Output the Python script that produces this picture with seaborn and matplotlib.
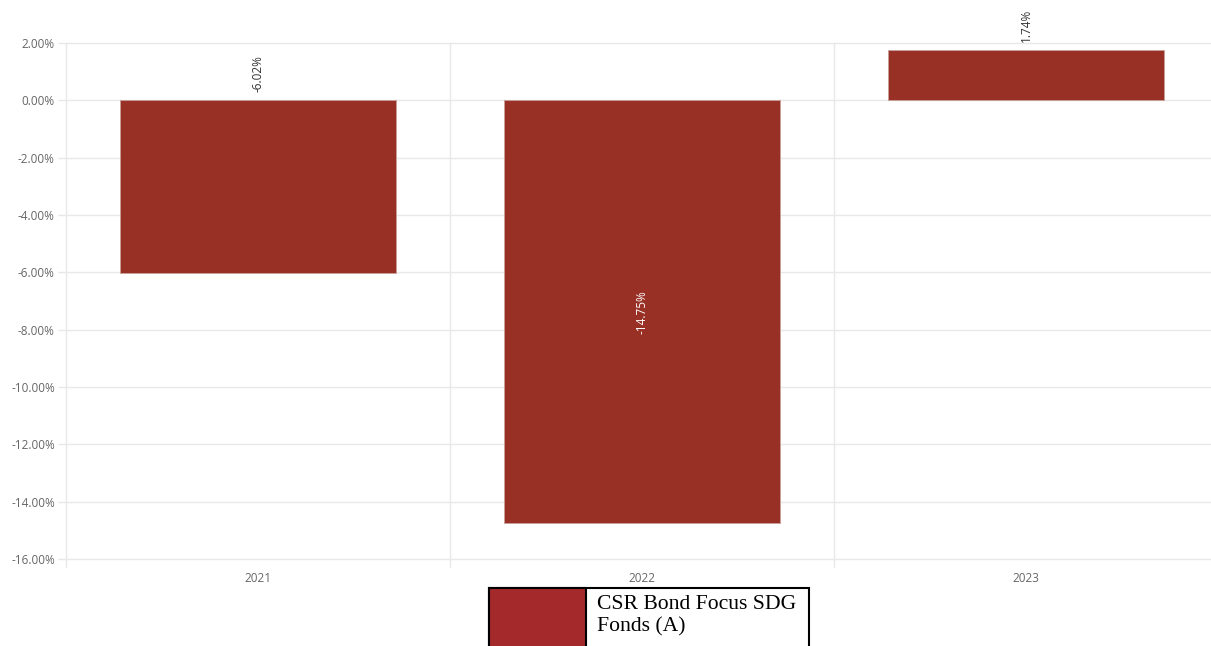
import matplotlib
matplotlib.use('Agg')
import matplotlib.pyplot as plt
import seaborn as sns
import pandas as pd
from matplotlib.patches import Rectangle
from matplotlib.ticker import FuncFormatter, MultipleLocator

# Data
years = ['2021', '2022', '2023']
returns = [-6.02, -14.75, 1.74]
series_name = 'CSR Bond Focus SDG\nFonds (A)'

bar_color = '#983026'
legend_color = '#a3292a'

df = pd.DataFrame({'Year': years, 'Return': returns})

sns.set_theme(style='white')
plt.rcParams['font.family'] = ['Open Sans', 'DejaVu Sans']

W, H = 1211, 646
fig = plt.figure(figsize=(W / 100, H / 100), dpi=100)
# axes in pixels: left 66, right 1211, top 43, bottom 559
ax = fig.add_axes([66 / W, 1 - 559 / H, (1211 - 66) / W, (559 - 43) / H])

sns.barplot(data=df, x='Year', y='Return', color=bar_color, width=0.72,
            saturation=1, ax=ax, edgecolor='#c8a09a', linewidth=0.6, zorder=3)

ax.set_ylim(-16, 2)
ax.set_xlim(-0.5, -0.5 + 1145 / 384)
ax.yaxis.set_major_locator(MultipleLocator(2))
ax.yaxis.set_major_formatter(FuncFormatter(lambda v, p: f'{v:.2f}%'))
ax.set_xlabel('')
ax.set_ylabel('')

# gridlines
for v in range(-16, 3, 2):
    ax.axhline(v, color='#e8e8e8', lw=1, zorder=1, clip_on=False)
for b in [-0.5, 0.5, 1.5]:
    ax.axvline(b, ymin=-8 / 516, ymax=1, color='#e8e8e8', lw=1, zorder=1, clip_on=False)

for s in ax.spines.values():
    s.set_visible(False)

ax.tick_params(axis='y', length=6, color='#e8e8e8', width=1, labelsize=8.5, labelcolor='#666666', pad=2, left=True)
ax.tick_params(axis='x', length=0, labelsize=8.5, labelcolor='#666666', pad=9)

# value labels
for i, v in enumerate(returns):
    if i == 1:
        ax.text(i, v / 2, f'{v:.2f}%', rotation=90, ha='center', va='center',
                fontsize=8.5, color='white', zorder=5)
    else:
        top = max(v, 0)
        ax.annotate(f'{v:.2f}%', (i, top), xytext=(0, 6), textcoords='offset points',
                    rotation=90, ha='center', va='bottom', fontsize=8.5, color='#333333', zorder=5)

# legend box drawn as in the reference
fig.patches.append(Rectangle((489 / W, 1 - 650 / H), (809 - 489) / W, 62 / H,
                             transform=fig.transFigure, facecolor='white',
                             edgecolor='black', lw=1.5, zorder=10))
fig.patches.append(Rectangle((489 / W, 1 - 650 / H), (586 - 489) / W, 62 / H,
                             transform=fig.transFigure, facecolor=legend_color,
                             edgecolor='black', lw=1.5, zorder=11))
fig.text(597 / W, 1 - 595 / H, series_name, ha='left', va='top', fontsize=15.6,
         family=['Liberation Serif', 'DejaVu Serif'], color='black', linespacing=1.2,
         zorder=12)

fig.savefig('out.png', dpi=100)
